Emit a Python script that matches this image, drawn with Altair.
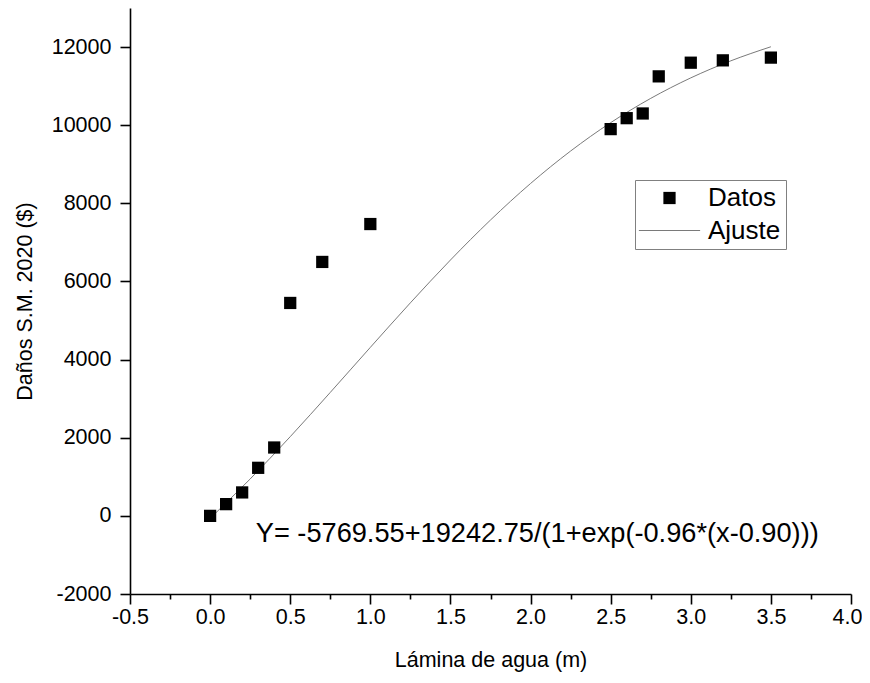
import altair as alt
import pandas as pd

x_datos = [0.0, 0.1, 0.2, 0.3, 0.4, 0.5, 0.7, 1.0, 2.5, 2.6, 2.7, 2.8, 3.0, 3.2, 3.5]
y_datos = [0, 300, 600, 1230, 1750, 5450, 6500, 7470, 9900, 10180, 10300, 11250, 11600, 11660, 11730]

# Fitted curve, values
x_ajuste = [0.0, 0.25, 0.5, 0.75, 1.0, 1.25, 1.5, 1.75, 2.0, 2.25, 2.5, 2.75, 3.0, 3.25, 3.5]
y_ajuste = [-64, 944, 2027, 3160, 4313, 5453, 6549, 7573, 8508, 9339, 10065, 10687, 11211, 11648, 12008]

series = ["Datos", "Ajuste"]
ecuacion = "Y= -5769.55+19242.75/(1+exp(-0.96*(x-0.90)))"
ecuacion_x = [0.285]
ecuacion_y = [-665]

x_ticks = [-0.5 + 0.25 * i for i in range(19)]
y_ticks = [-2000 + 1000 * i for i in range(16)]

FONT = "Liberation Sans"
LINE_GRAY = "#7a7a7a"

df_d = pd.DataFrame({"x": x_datos, "y": y_datos, "serie": "Datos"})
df_a = pd.DataFrame({"x": x_ajuste, "y": y_ajuste})
df_t = pd.DataFrame({"x": ecuacion_x, "y": ecuacion_y, "t": [ecuacion]})

xscale = alt.Scale(domain=[-0.5, 4.0], nice=False, zero=False)
yscale = alt.Scale(domain=[-2000, 13000], nice=False, zero=False)

x_major = "abs(datum.value*2 - round(datum.value*2)) < 0.001"
x_last = "datum.value > 3.9"
xaxis = alt.Axis(
    title="Lámina de agua (m)", values=x_ticks, grid=False,
    labelExpr=f"{x_major} ? (datum.value < 0 ? '-' + format(-datum.value, '.1f') : format(datum.value, '.1f')) : ''",
    tickSize={"condition": {"test": x_major, "value": 10}, "value": 5},
    labelAlign={"condition": {"test": x_last, "value": "right"}, "value": "center"},
    labelOffset={"condition": {"test": x_last, "value": 11}, "value": 0},
    labelFontSize=21.5, titleFontSize=21.5, labelFont=FONT, titleFont=FONT,
    labelColor="black", titleColor="black", titleFontWeight="normal",
    domainColor="black", tickColor="black", domainWidth=1.6, tickWidth=1.6,
    labelPadding=2, titlePadding=22, labelFlush=False,
)
y_major = "datum.value % 2000 === 0"
yaxis = alt.Axis(
    title="Daños S.M. 2020 ($)", values=y_ticks, grid=False,
    labelExpr=f"{y_major} ? (datum.value < 0 ? '-' + format(-datum.value, 'd') : format(datum.value, 'd')) : ''",
    tickSize={"condition": {"test": y_major, "value": 10}, "value": 5},
    labelFontSize=21.5, titleFontSize=21.5, labelFont=FONT, titleFont=FONT,
    labelColor="black", titleColor="black", titleFontWeight="normal",
    domainColor="black", tickColor="black", domainWidth=1.6, tickWidth=1.6,
    labelPadding=9, titlePadding=15, labelFlush=False,
)

legend = alt.Legend(
    title="", orient="none", legendX=505, legendY=172,
    symbolSize=150, symbolOffset=16.5, labelOffset=25.5, symbolStrokeWidth=0,
    symbolOpacity=1,
    labelFontSize=26, labelFont=FONT, labelColor="black",
    padding=5, rowPadding=6.5, strokeColor="#808080",
)

line = alt.Chart(df_a).mark_line(strokeWidth=1, interpolate="monotone", color=LINE_GRAY).encode(
    x=alt.X("x:Q", scale=xscale, axis=xaxis),
    y=alt.Y("y:Q", scale=yscale, axis=yaxis),
)

points = alt.Chart(df_d).mark_point(filled=True, size=150, opacity=1).encode(
    x=alt.X("x:Q", scale=xscale),
    y=alt.Y("y:Q", scale=yscale),
    color=alt.Color("serie:N", scale=alt.Scale(domain=series, range=["black", LINE_GRAY]), legend=legend),
    shape=alt.Shape("serie:N", scale=alt.Scale(domain=series, range=["square", "M-5,-0.09H5V0.09H-5Z"]), legend=legend),
)

text = alt.Chart(df_t).mark_text(
    align="left", baseline="alphabetic", fontSize=27.2, font=FONT, color="black"
).encode(x=alt.X("x:Q", scale=xscale), y=alt.Y("y:Q", scale=yscale), text="t:N")

chart = alt.layer(line, points, text).properties(
    width=721, height=586,
    autosize=alt.AutoSizeParams(type="none"),
    padding={"left": 122, "top": 0, "right": 11, "bottom": 80},
    background="white",
).configure_view(stroke=None)

chart.save("out.html", embed_options={"renderer": "svg", "actions": False})
